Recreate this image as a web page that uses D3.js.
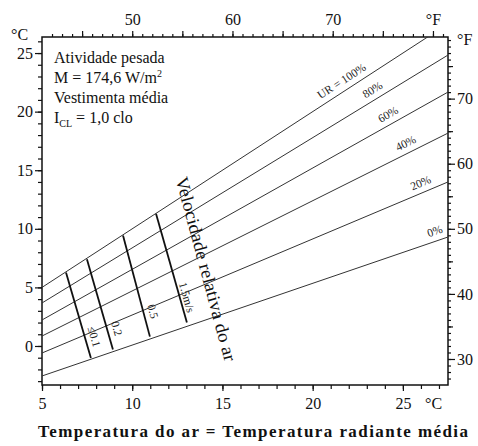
<!DOCTYPE html>
<html>
<head>
<meta charset="utf-8">
<script src="https://cdn.jsdelivr.net/npm/d3@7"></script>
<style>
  body { margin: 0; background: #fff; }
</style>
</head>
<body>
<svg id="chart"></svg>
<script>
const width = 478;
const height = 446;
const serif = "Liberation Serif";

// relative humidity lines: value at air temp 5 °C and at 27.5 °C
const rhLabels = ["UR = 100%", "80%", "60%", "40%", "20%", "0%"];
const rhAt5 = [5.0, 3.67, 2.22, 0.85, -0.6, -2.56];
const rhAt275 = [27.5, 24.83, 21.67, 18.17, 14.0, 9.3];
const rhLabelT = [21.9, 23.6, 24.45, 25.4, 26.2, 26.95];

// air velocity lines: [air temp, temp] at top and bottom ends
const velLabels = ["≤0.1", "0.2", "0.5", "1.5m/s"];
const velTop = [[6.33, 6.28], [7.49, 7.4], [9.49, 9.42], [11.32, 11.28]];
const velBottom = [[7.71, -1.02], [8.93, -0.3], [10.98, 0.8], [13.03, 2.0]];
const velLabelPos = [[7.9, 0.8], [9.15, 1.5], [11.15, 2.95], [13.03, 4.15]];

const xTicksC = [5, 10, 15, 20, 25];
const yTicksC = [0, 5, 10, 15, 20, 25];
const yTicksF = [30, 40, 50, 60, 70];
const xTicksF = [50, 60, 70];

const infoLines = ["Atividade pesada", "M = 174,6 W/m", "Vestimenta média", "I"];

const toF = c => c * 9 / 5 + 32;

const svg = d3.select("#chart")
    .attr("width", width)
    .attr("height", height)
    .style("font-family", serif);

const pLeft = 42, pRight = 448, pTop = 37, pBottom = 385;

const x = d3.scaleLinear().domain([5, 27.5]).range([pLeft, pRight]);
const y = d3.scaleLinear().domain([-3.33, 26.37]).range([pBottom, pTop]);
const xF = d3.scaleLinear().domain([toF(5), toF(27.5)]).range([pLeft, pRight]);
const yF = d3.scaleLinear().domain([toF(-3.33), toF(26.37)]).range([pBottom, pTop]);

svg.append("clipPath").attr("id", "plotclip")
    .append("rect")
    .attr("x", pLeft).attr("y", pTop)
    .attr("width", pRight - pLeft).attr("height", pBottom - pTop);

// axes: minor ticks first, then majors with labels
function addAxis(axis, transform, cls) {
    const g = svg.append("g")
        .attr("class", cls)
        .attr("transform", transform)
        .call(axis);
    g.select(".domain").remove();
    g.selectAll("line").attr("stroke", "#111").attr("stroke-width", 1.2);
    g.selectAll("text")
        .style("font-family", serif)
        .style("font-size", "16px")
        .attr("fill", "#111");
    return g;
}

// bottom, °C
addAxis(d3.axisBottom(x).tickValues(d3.range(5, 28)).tickSize(4).tickFormat(""),
    `translate(0,${pBottom})`, "xminor");
addAxis(d3.axisBottom(x).tickValues(xTicksC).tickSize(6).tickPadding(7),
    `translate(0,${pBottom})`, "xmajor");

// left, °C
addAxis(d3.axisLeft(y).tickValues(d3.range(-3, 27)).tickSize(4).tickFormat(""),
    `translate(${pLeft},0)`, "yminor");
addAxis(d3.axisLeft(y).tickValues(yTicksC).tickSize(7).tickPadding(2),
    `translate(${pLeft},0)`, "ymajor");

// top, °F
addAxis(d3.axisTop(xF).tickValues(d3.range(42, 82)).tickSize(3).tickFormat(""),
    `translate(0,${pTop})`, "xfminor");
addAxis(d3.axisTop(xF).tickValues([45, 50, 55, 60, 65, 70, 75, 80]).tickSize(6).tickPadding(6)
        .tickFormat(d => d === 80 ? "°F" : (xTicksF.includes(d) ? d : "")),
    `translate(0,${pTop})`, "xfmajor");

// right, °F
addAxis(d3.axisRight(yF).tickValues(d3.range(27, 80)).tickSize(3).tickFormat(""),
    `translate(${pRight},0)`, "yfminor");
addAxis(d3.axisRight(yF).tickValues([35, 45, 55, 65, 75]).tickSize(5).tickFormat(""),
    `translate(${pRight},0)`, "yfmid");
addAxis(d3.axisRight(yF).tickValues(yTicksF).tickSize(7).tickPadding(2),
    `translate(${pRight},0)`, "yfmajor");

// frame
svg.append("rect")
    .attr("x", pLeft).attr("y", pTop)
    .attr("width", pRight - pLeft).attr("height", pBottom - pTop)
    .attr("fill", "none")
    .attr("stroke", "#111")
    .attr("stroke-width", 1.5);

// unit labels
const unit = (px, py, t) => svg.append("text").attr("x", px).attr("y", py)
    .style("font-family", serif).style("font-size", "16px").attr("fill", "#111").text(t);
unit(11, 40, "°C");
unit(457, 45, "°F");
unit(425, 409, "°C");

// relative humidity lines
const rhData = rhLabels.map((label, i) => ({
    label: label,
    p0: [5, rhAt5[i]],
    p1: [27.5, rhAt275[i]],
    t: rhLabelT[i]
}));

svg.append("g")
    .attr("clip-path", "url(#plotclip)")
    .selectAll("line")
    .data(rhData)
    .join("line")
    .attr("x1", d => x(d.p0[0]))
    .attr("y1", d => y(d.p0[1]))
    .attr("x2", d => x(d.p1[0]))
    .attr("y2", d => y(d.p1[1]))
    .attr("stroke", "#333")
    .attr("stroke-width", 1);

svg.append("g")
    .selectAll("text")
    .data(rhData)
    .join("text")
    .attr("transform", d => {
        const k = (d.p1[1] - d.p0[1]) / (d.p1[0] - d.p0[0]);
        const v = d.p0[1] + (d.t - d.p0[0]) * k;
        const ang = Math.atan2(y(d.p1[1]) - y(d.p0[1]), x(d.p1[0]) - x(d.p0[0])) * 180 / Math.PI;
        return `translate(${x(d.t)},${y(v)}) rotate(${ang})`;
    })
    .attr("y", -6)
    .attr("text-anchor", "middle")
    .style("font-family", serif)
    .style("font-size", "11.5px")
    .attr("fill", "#222")
    .text(d => d.label);

// velocity lines
const velData = velLabels.map((label, i) => ({
    label: label, top: velTop[i], bot: velBottom[i], pos: velLabelPos[i]
}));

svg.append("g")
    .selectAll("line")
    .data(velData)
    .join("line")
    .attr("x1", d => x(d.top[0]))
    .attr("y1", d => y(d.top[1]))
    .attr("x2", d => x(d.bot[0]))
    .attr("y2", d => y(d.bot[1]))
    .attr("stroke", "#111")
    .attr("stroke-width", 1.8);

svg.append("g")
    .selectAll("text")
    .data(velData)
    .join("text")
    .attr("transform", d => {
        const ang = Math.atan2(y(d.bot[1]) - y(d.top[1]), x(d.bot[0]) - x(d.top[0])) * 180 / Math.PI;
        return `translate(${x(d.pos[0])},${y(d.pos[1])}) rotate(${ang})`;
    })
    .attr("text-anchor", "middle")
    .attr("dominant-baseline", "central")
    .style("font-family", serif)
    .style("font-size", "11.5px")
    .attr("fill", "#222")
    .text(d => d.label);

svg.append("text")
    .attr("transform", "translate(206,269) rotate(75)")
    .attr("text-anchor", "middle")
    .attr("dominant-baseline", "central")
    .attr("textLength", 190)
    .attr("lengthAdjust", "spacingAndGlyphs")
    .style("font-family", serif)
    .style("font-size", "18px")
    .attr("fill", "#111")
    .text("Velocidade relativa do ar");

// info block
const info = svg.append("g")
    .style("font-family", serif)
    .style("font-size", "16px")
    .attr("fill", "#111");
info.append("text").attr("x", 54).attr("y", 63).text(infoLines[0]);
const m = info.append("text").attr("x", 54).attr("y", 83).text(infoLines[1]);
m.append("tspan").attr("dy", -6).style("font-size", "10px").text("2");
info.append("text").attr("x", 54).attr("y", 103).text(infoLines[2]);
const icl = info.append("text").attr("x", 54).attr("y", 123).text(infoLines[3]);
icl.append("tspan").attr("dy", 4).style("font-size", "10px").text("CL");
icl.append("tspan").attr("dy", -4).text(" = 1,0 clo");

// title
svg.append("text")
    .attr("x", 38)
    .attr("y", 437)
    .attr("textLength", 430)
    .attr("lengthAdjust", "spacing")
    .style("font-family", serif)
    .style("font-size", "17px")
    .style("font-weight", "bold")
    .attr("fill", "#111")
    .text("Temperatura do ar = Temperatura radiante média");
</script>
</body>
</html>
